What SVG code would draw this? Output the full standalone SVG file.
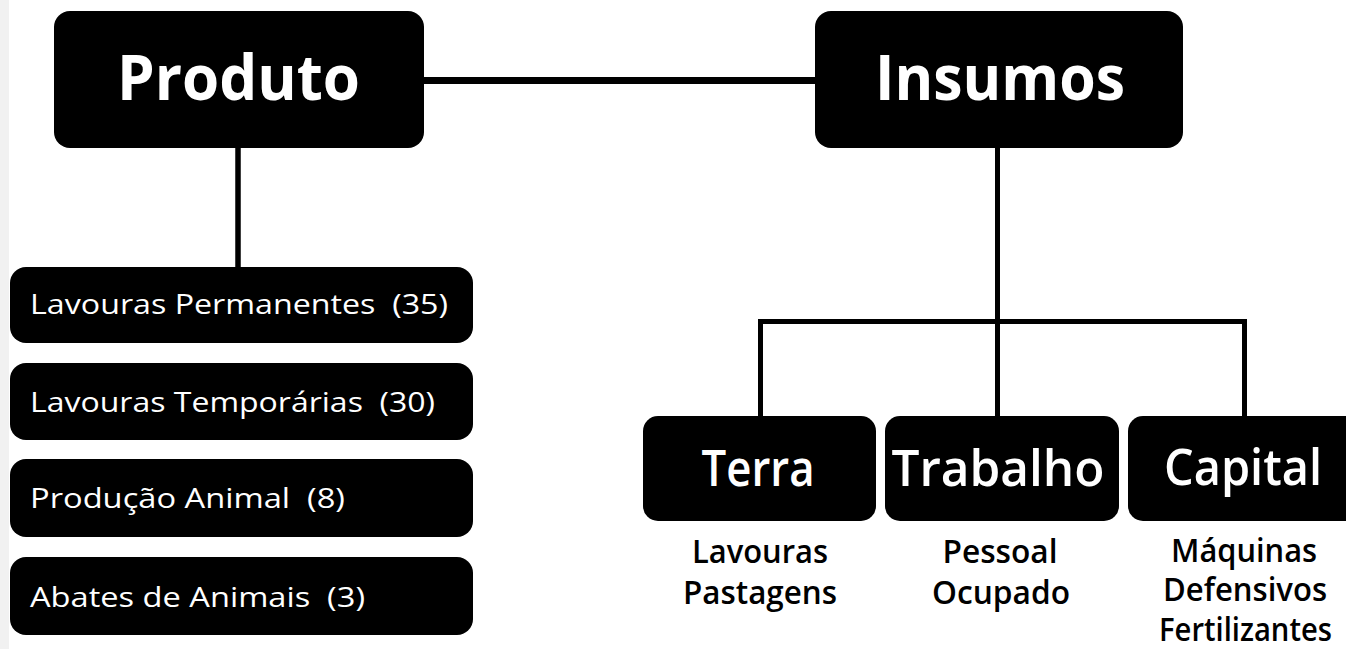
<svg xmlns="http://www.w3.org/2000/svg" width="1346" height="649" viewBox="0 0 1346 649">
<style>
.box{fill:#000}
.wire{stroke:#000;fill:none;stroke-linecap:butt}
.t{font-family:"Open Sans","Noto Sans","DejaVu Sans",sans-serif}
.head{fill:#fff;font-weight:700;font-size:62px;text-anchor:middle}
.sub{fill:#fff;font-weight:600;font-size:51px;text-anchor:middle}
.item{fill:#fff;font-weight:500;font-size:27px}
.lab{fill:#000;font-weight:600;font-size:32px;text-anchor:middle}
</style>
<rect x="0" y="0" width="1346" height="649" fill="#fff"/>
<rect x="0" y="0" width="9" height="649" fill="#f1f1f1"/>
<g id="connectors">
<line class="wire" x1="424" y1="80.5" x2="815" y2="80.5" stroke-width="7"/>
<line class="wire" x1="238" y1="147" x2="238" y2="268" stroke-width="5.5"/>
<line class="wire" x1="997.5" y1="147" x2="997.5" y2="417" stroke-width="5"/>
<path class="wire" d="M760.5,417 V321.5 H1244.5 V417" stroke-width="5"/>
</g>
<g id="produto">
<rect class="box" x="54" y="11" width="370" height="137" rx="16"/>
<text class="t head" x="238.5" y="100" textLength="243" lengthAdjust="spacingAndGlyphs">Produto</text>
</g>
<g id="insumos">
<rect class="box" x="815" y="11" width="368" height="137" rx="16"/>
<text class="t head" x="1000" y="100" textLength="250" lengthAdjust="spacingAndGlyphs">Insumos</text>
</g>
<g id="lavouras-permanentes">
<rect class="box" x="10" y="267" width="463" height="76" rx="16"/>
<text class="t item" x="30" y="314" xml:space="preserve" textLength="418" lengthAdjust="spacingAndGlyphs">Lavouras Permanentes  (35)</text>
</g>
<g id="lavouras-temporarias">
<rect class="box" x="10" y="363" width="463" height="77" rx="16"/>
<text class="t item" x="30" y="412" xml:space="preserve" textLength="405" lengthAdjust="spacingAndGlyphs">Lavouras Temporárias  (30)</text>
</g>
<g id="producao-animal">
<rect class="box" x="10" y="459" width="463" height="78" rx="16"/>
<text class="t item" x="30" y="508" xml:space="preserve" textLength="315" lengthAdjust="spacingAndGlyphs">Produção Animal  (8)</text>
</g>
<g id="abates-de-animais">
<rect class="box" x="10" y="557" width="463" height="78" rx="16"/>
<text class="t item" x="30" y="607" xml:space="preserve" textLength="335" lengthAdjust="spacingAndGlyphs">Abates de Animais  (3)</text>
</g>
<g id="terra">
<rect class="box" x="643" y="416" width="233" height="105" rx="15"/>
<text class="t sub" x="758" y="486" textLength="113" lengthAdjust="spacingAndGlyphs">Terra</text>
<text class="t lab" x="760" y="563" textLength="136" lengthAdjust="spacingAndGlyphs">Lavouras</text>
<text class="t lab" x="760" y="604" textLength="154" lengthAdjust="spacingAndGlyphs">Pastagens</text>
</g>
<g id="trabalho">
<rect class="box" x="885" y="416" width="234" height="105" rx="15"/>
<text class="t sub" x="998" y="486" textLength="213" lengthAdjust="spacingAndGlyphs">Trabalho</text>
<text class="t lab" x="1000" y="563" textLength="115" lengthAdjust="spacingAndGlyphs">Pessoal</text>
<text class="t lab" x="1001" y="604" textLength="138" lengthAdjust="spacingAndGlyphs">Ocupado</text>
</g>
<g id="capital">
<rect class="box" x="1128" y="416" width="240" height="105" rx="15"/>
<text class="t sub" x="1243" y="485" textLength="158" lengthAdjust="spacingAndGlyphs">Capital</text>
<text class="t lab" x="1244" y="562" font-size="30" textLength="146" lengthAdjust="spacingAndGlyphs">Máquinas</text>
<text class="t lab" x="1245" y="601" font-size="29" textLength="164" lengthAdjust="spacingAndGlyphs">Defensivos</text>
<text class="t lab" x="1245.5" y="641" font-size="29" textLength="173" lengthAdjust="spacingAndGlyphs">Fertilizantes</text>
</g>
</svg>
